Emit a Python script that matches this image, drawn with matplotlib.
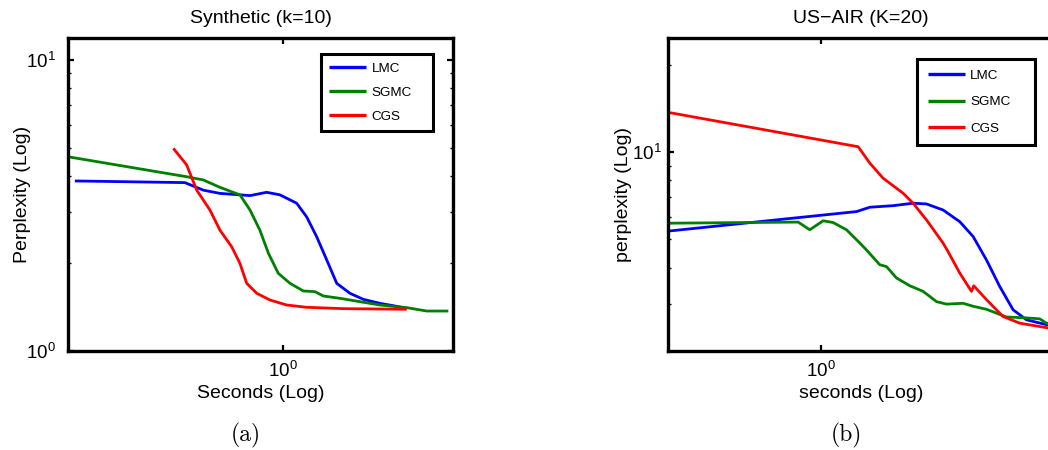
import matplotlib
matplotlib.use("Agg")
import matplotlib.pyplot as plt
from matplotlib.ticker import LogLocator, NullFormatter, NullLocator, FixedLocator

plt.rcParams['font.family'] = ['Liberation Sans', 'DejaVu Sans']

# ---------------- data ----------------
series_names = ["LMC", "SGMC", "CGS"]
series_colors = ["#0000ff", "#008000", "#ff0000"]

# Panel (a): Synthetic (k=10)
syn_lmc_t = [0.288, 0.556, 0.621, 0.686, 0.773, 0.821, 0.907, 0.982, 1.085, 1.152,
             1.223, 1.299, 1.379, 1.493, 1.617, 1.786, 1.934, 2.096]
syn_lmc_p = [3.84, 3.79, 3.57, 3.48, 3.44, 3.42, 3.51, 3.44, 3.22, 2.89,
             2.47, 2.055, 1.708, 1.578, 1.505, 1.458, 1.431, 1.402]
syn_sgmc_t = [0.2764, 0.562, 0.621, 0.686, 0.773, 0.821, 0.871, 0.916, 0.972, 1.043,
              1.129, 1.211, 1.273, 1.406, 1.585, 1.786, 2.096, 2.362, 2.688]
syn_sgmc_p = [4.65, 3.97, 3.87, 3.65, 3.44, 3.05, 2.60, 2.17, 1.849, 1.708,
              1.608, 1.599, 1.545, 1.517, 1.477, 1.439, 1.409, 1.372, 1.372]
syn_cgs_t = [0.519, 0.562, 0.597, 0.646, 0.686, 0.736, 0.773, 0.805, 0.855, 0.925,
             1.022, 1.152, 1.434, 2.096]
syn_cgs_p = [4.97, 4.36, 3.57, 3.05, 2.60, 2.28, 2.00, 1.708, 1.578, 1.497,
             1.439, 1.413, 1.398, 1.391]

# Panel (b): US-AIR (K=20)
air_lmc_t = [0.405, 1.238, 1.341, 1.541, 1.737, 1.882, 2.078, 2.296, 2.487, 2.694,
             2.917, 3.159, 3.422, 3.857, 3.95]
air_lmc_p = [5.35, 6.24, 6.46, 6.54, 6.67, 6.63, 6.32, 5.76, 5.12, 4.25,
             3.44, 2.86, 2.64, 2.54, 2.52]
air_sgmc_t = [0.405, 0.873, 0.936, 1.014, 1.076, 1.166, 1.263, 1.314, 1.423, 1.481,
              1.573, 1.703, 1.844, 1.998, 2.121, 2.342, 2.487, 2.694, 3.035, 3.422,
              3.706, 3.857, 3.95]
air_sgmc_p = [5.69, 5.74, 5.40, 5.80, 5.72, 5.40, 4.86, 4.60, 4.09, 4.03,
              3.68, 3.46, 3.31, 3.05, 2.99, 3.01, 2.94, 2.87, 2.70, 2.68,
              2.66, 2.57, 2.55]
air_cgs_t = [0.405, 1.250, 1.341, 1.451, 1.636, 1.737, 1.882, 2.078, 2.141, 2.296,
             2.463, 2.497, 2.694, 2.975, 3.288, 3.857, 3.95]
air_cgs_p = [13.70, 10.45, 9.17, 8.14, 7.22, 6.67, 5.84, 4.86, 4.54, 3.83,
             3.31, 3.46, 3.10, 2.71, 2.57, 2.48, 2.47]

panel_titles = ["Synthetic (k=10)", "US\u2212AIR (K=20)"]
panel_ylabels = ["Perplexity (Log)", "perplexity (Log)"]
panel_xlabels = ["Seconds (Log)", "seconds (Log)"]
panel_captions = ["(a)", "(b)"]
x_tick_vals = [1.0]
x_tick_labels = [r"$\mathregular{10^{0}}$"]
y_tick_vals = [[1.0, 10.0], [10.0]]
y_tick_labels = [[r"$\mathregular{10^{0}}$", r"$\mathregular{10^{1}}$"],
                 [r"$\mathregular{10^{1}}$"]]

# ---------------- figure ----------------
W, H = 1048, 450
fig = plt.figure(figsize=(W / 100, H / 100), dpi=100)

axes_px = [(68, 38, 385, 313), (667.7, 38, 392, 313)]   # left, top, width, height in px
xlims = [(0.2764, 2.764), (0.400, 4.176)]
ylims = [(1.0, 11.9), (2.06, 24.8)]
ytick_pads = [9, 4.5]
ylabel_x = [-0.118, -0.113]
# legend boxes: x0, y_top, width, height (axes fraction)
legend_boxes = [(0.657, 0.949, 0.290, 0.240), (0.636, 0.933, 0.301, 0.265)]
legend_spacing = [0.86, 1.02]
legend_pad = [0.62, 0.80]
caption_x = [245.6, 846.7]

data = [
    [(syn_lmc_t, syn_lmc_p), (syn_sgmc_t, syn_sgmc_p), (syn_cgs_t, syn_cgs_p)],
    [(air_lmc_t, air_lmc_p), (air_sgmc_t, air_sgmc_p), (air_cgs_t, air_cgs_p)],
]

for i in range(2):
    l, t, w, h = axes_px[i]
    ax = fig.add_axes([l / W, 1 - (t + h) / H, w / W, h / H])
    for (xs, ys), name, col in zip(data[i], series_names, series_colors):
        ax.plot(xs, ys, color=col, lw=2.0, label=name, solid_capstyle='butt')
    ax.set_xscale('log')
    ax.set_yscale('log')
    ax.set_xlim(*xlims[i])
    ax.set_ylim(*ylims[i])

    ax.xaxis.set_major_locator(FixedLocator(x_tick_vals))
    ax.set_xticklabels(x_tick_labels)
    ax.xaxis.set_minor_locator(NullLocator())
    ax.yaxis.set_major_locator(FixedLocator(y_tick_vals[i]))
    ax.set_yticklabels(y_tick_labels[i])
    ax.yaxis.set_minor_locator(LogLocator(base=10, subs=[2, 3, 4, 5, 6, 7, 8, 9]))
    ax.yaxis.set_minor_formatter(NullFormatter())

    ax.tick_params(which='both', direction='in', top=True, right=True, colors='black')
    ax.tick_params(which='major', length=4, width=1.6, labelsize=13.5)
    ax.tick_params(which='minor', length=2.5, width=1.0)
    ax.tick_params(axis='x', which='major', pad=7)
    ax.tick_params(axis='y', which='major', pad=ytick_pads[i])

    for sp in ax.spines.values():
        sp.set_linewidth(2.4)
        sp.set_color('black')

    ax.set_title(panel_titles[i], fontsize=14, pad=10.5)
    ax.set_ylabel(panel_ylabels[i], fontsize=14, va='center')
    ax.yaxis.set_label_coords(ylabel_x[i], 0.5)
    ax.set_xlabel(panel_xlabels[i], fontsize=14, va='center')
    xl_center = (260.5 - l) / w if i == 0 else (861 - l) / w
    ax.xaxis.set_label_coords(xl_center, -0.135)
    ax.title.set_x(xl_center)

    x0, ytop, bw, bh = legend_boxes[i]
    leg = ax.legend(loc='upper left', bbox_to_anchor=(x0, ytop - bh, bw, bh), mode='expand',
                    borderaxespad=0, fontsize=9.7, handlelength=2.75, handletextpad=0.4,
                    labelspacing=legend_spacing[i], borderpad=legend_pad[i], fancybox=False,
                    framealpha=1, edgecolor='black')
    leg.get_frame().set_linewidth(2.2)
    for ln in leg.get_lines():
        ln.set_linewidth(2.4)

    fig.text(caption_x[i] / W, 1 - 435 / H, panel_captions[i], family='cmr10',
             fontsize=17, ha='center', va='center')

fig.savefig("out.png", dpi=100)
